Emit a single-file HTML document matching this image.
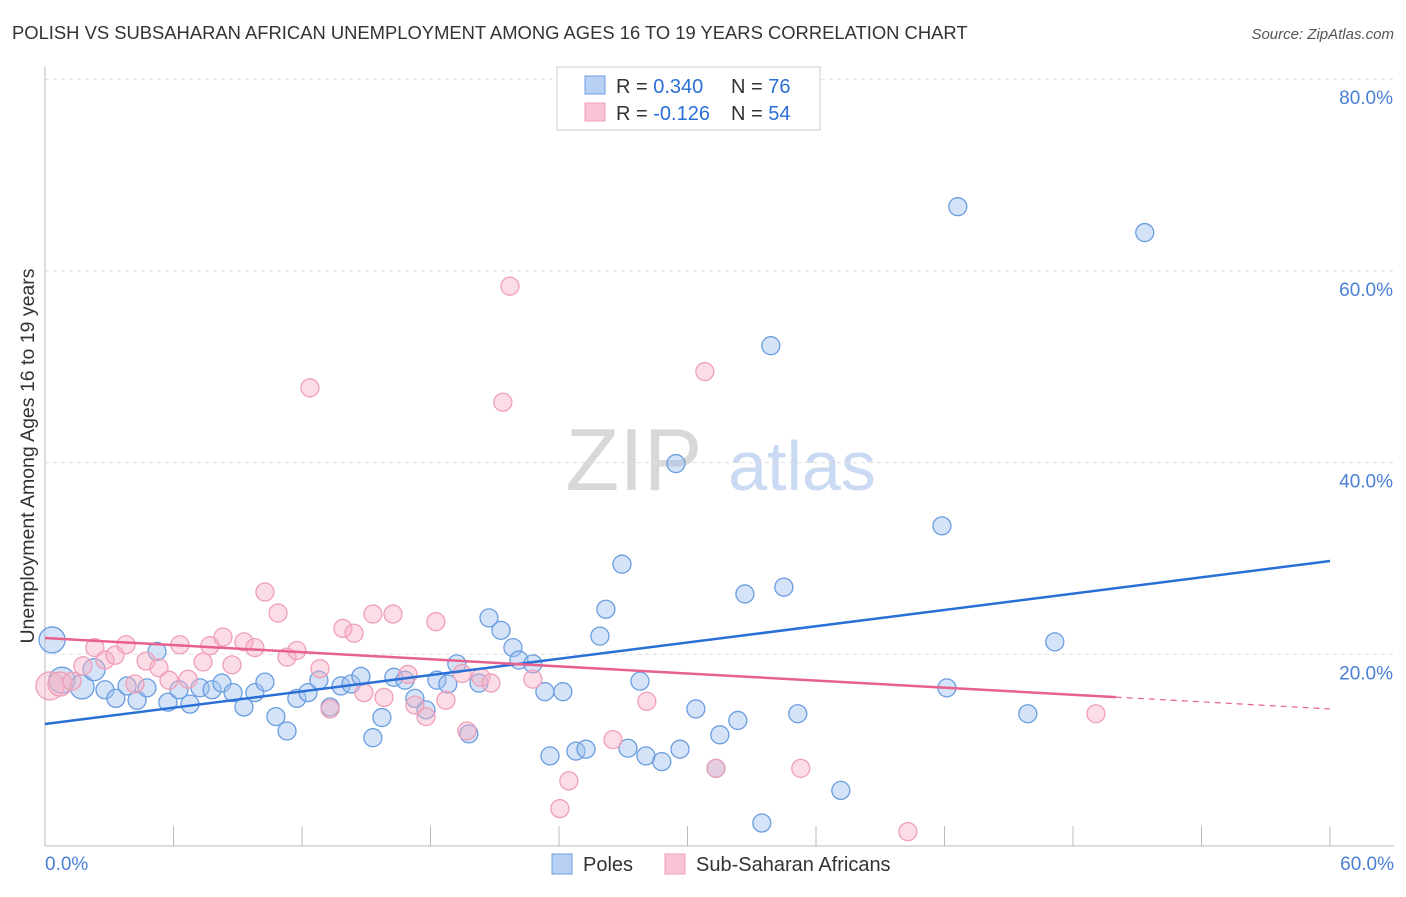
<!DOCTYPE html>
<html><head><meta charset="utf-8"><style>
body{margin:0;background:#fff;font-family:"Liberation Sans",sans-serif;}
svg text{font-family:"Liberation Sans",sans-serif;}
</style></head><body>
<svg id="chart" width="1406" height="892" xmlns="http://www.w3.org/2000/svg">
<text x="12" y="39" font-size="18.4" fill="#333">POLISH VS SUBSAHARAN AFRICAN UNEMPLOYMENT AMONG AGES 16 TO 19 YEARS CORRELATION CHART</text>
<text x="1394" y="39" font-size="15" fill="#555" text-anchor="end" font-style="italic">Source: ZipAtlas.com</text>
<g>
<text x="634" y="490" font-size="88" fill="#d8d8d8" font-family="Liberation Serif, serif" text-anchor="middle">ZIP</text>
<text x="802" y="490" font-size="70" fill="#c9daf2" text-anchor="middle">atlas</text>
</g>
<g id="grid"></g>
<g id="axes"></g>
<g id="pts"></g>
<g id="lines"></g>
<text transform="translate(34,456) rotate(-90)" font-size="19.5" fill="#333" text-anchor="middle">Unemployment Among Ages 16 to 19 years</text>
<text x="45" y="870" font-size="19" fill="#4a7fd4">0.0%</text>
<text x="1394" y="870" font-size="19" fill="#4a7fd4" text-anchor="end">60.0%</text>
<g>
<rect x="557" y="67" width="263" height="63" fill="#fff" stroke="#ccc"/>
<rect x="585" y="76" width="20" height="18" fill="#b8d0f4" stroke="#6c9ee0"/>
<rect x="585" y="103" width="20" height="18" fill="#f9c4d4" stroke="#f0a0b8"/>
<text x="616" y="93" font-size="20" fill="#333">R = <tspan fill="#2a6fd6">0.340</tspan><tspan x="731">N = </tspan><tspan fill="#2a6fd6">76</tspan></text>
<text x="616" y="120" font-size="20" fill="#333">R = <tspan fill="#2a6fd6">-0.126</tspan><tspan x="731">N = </tspan><tspan fill="#2a6fd6">54</tspan></text>
</g>
<g>
<rect x="552" y="854" width="20" height="20" fill="#b8d0f4" stroke="#6c9ee0"/>
<text x="583" y="871" font-size="20" fill="#333">Poles</text>
<rect x="665" y="854" width="20" height="20" fill="#f9c4d4" stroke="#f0a0b8"/>
<text x="696" y="871" font-size="20" fill="#333">Sub-Saharan Africans</text>
</g>
</svg>
<script>
const yTicks=[20,40,60,80];
const xTicks=[0,6,12,18,24,30,36,42,48,54,60];
const blueX=[0.33,0.79,1.73,2.29,2.80,3.31,3.83,4.30,4.76,5.23,5.74,6.26,6.77,7.24,7.80,8.26,8.78,9.29,9.80,10.27,10.78,11.30,11.76,12.28,12.79,13.31,13.82,14.29,14.75,15.31,15.73,16.29,16.81,17.27,17.79,18.30,18.81,19.23,19.79,20.26,20.73,21.29,21.85,22.13,22.78,23.34,24.18,23.58,24.79,25.26,25.91,26.19,26.94,27.22,28.06,28.80,29.46,29.65,30.39,31.51,32.35,32.68,33.89,34.50,35.15,33.47,37.16,41.88,42.11,42.62,45.89,47.15,51.35,27.78,31.33];
const blueY=[21.5,17.3,16.6,18.4,16.3,15.4,16.7,15.2,16.5,20.3,15.0,16.3,14.8,16.5,16.3,17.0,16.0,14.5,16.0,17.1,13.5,12.0,15.4,16.0,17.3,14.5,16.7,16.9,17.7,11.3,13.4,17.6,17.3,15.4,14.2,17.3,16.9,19.0,11.7,17.0,23.8,22.5,20.7,19.4,19.0,16.1,16.1,9.4,9.9,10.1,21.9,24.7,29.4,10.2,9.4,8.8,39.9,10.1,14.3,11.6,13.1,26.3,52.2,27.0,13.8,2.4,5.8,33.4,16.5,66.7,13.8,21.3,64.0,17.2,8.1];
const blueSize=[13,13,12,11];
const pinkX=[0.23,0.70,1.26,1.77,2.33,2.80,3.27,3.78,4.20,4.72,5.32,5.79,6.30,6.68,7.38,7.70,8.31,8.73,9.29,9.80,10.27,10.88,11.30,11.76,12.37,12.84,13.31,13.91,14.43,14.89,15.31,15.83,16.25,16.95,17.27,17.79,18.25,18.72,19.47,19.70,20.35,20.82,21.71,21.38,22.78,24.46,24.04,26.52,28.10,30.81,31.33,35.29,40.29,49.07];
const pinkY=[16.7,16.9,17.2,18.8,20.7,19.4,19.9,21.0,16.9,19.3,18.6,17.3,21.0,17.4,19.2,20.9,21.8,18.9,21.3,20.7,26.5,24.3,19.7,20.4,47.8,18.5,14.3,22.7,22.2,16.0,24.2,15.5,24.2,17.9,14.7,13.5,23.4,15.2,18.0,12.0,17.6,17.0,58.4,46.3,17.4,6.8,3.9,11.1,15.1,49.5,8.1,8.1,1.5,13.8];
const pinkSize=[14,12];
const blueTrend=[12.73,29.73];
const pinkTrend=[21.7,14.3];
const pinkSolidEnd=50;
const NS='http://www.w3.org/2000/svg';
const X=v=>45+v*(1285/60);
const Y=v=>846-v*9.585;
function mk(t,a,p){const e=document.createElementNS(NS,t);for(const k in a)e.setAttribute(k,a[k]);p.appendChild(e);return e;}
const grid=document.getElementById('grid'),axes=document.getElementById('axes'),pts=document.getElementById('pts'),lines=document.getElementById('lines');
yTicks.forEach(t=>{
 const l=mk('line',{x1:45,x2:1394,y1:Y(t),y2:Y(t),stroke:'#ddd','stroke-dasharray':'4,4'},grid);
 
 
 const tx=mk('text',{x:1393,y:Y(t)+25,'font-size':19,fill:'#4a7fd4','text-anchor':'end'},grid);
 tx.textContent=t.toFixed(1)+'%';
 
 
});
const ya=mk('line',{x1:45,x2:45,y1:67,y2:846,stroke:'#bbb'},axes);


const xa=mk('line',{x1:45,x2:1394,y1:846,y2:846,stroke:'#bbb'},axes);


xTicks.forEach(t=>{
 const l=mk('line',{x1:X(t),x2:X(t),y1:826,y2:846,stroke:'#bbb'},axes);
 
 
});
blueX.forEach((v,i)=>{
 const c=mk('circle',{cx:X(v),cy:Y(blueY[i]),r:blueSize[i]||9,fill:'rgba(160,194,240,0.45)',stroke:'#6a9de0','stroke-width':1.3},pts);
 
 
});
pinkX.forEach((v,i)=>{
 const c=mk('circle',{cx:X(v),cy:Y(pinkY[i]),r:pinkSize[i]||9,fill:'rgba(248,178,198,0.45)',stroke:'#ef9fb8','stroke-width':1.3},pts);
 
 
});
const bl=mk('line',{x1:X(0),y1:Y(blueTrend[0]),x2:X(60),y2:Y(blueTrend[1]),stroke:'#2a6fd6','stroke-width':2.5},lines);


const pm=pinkTrend[0]+(pinkTrend[1]-pinkTrend[0])*pinkSolidEnd/60;
const pl=mk('line',{x1:X(0),y1:Y(pinkTrend[0]),x2:X(pinkSolidEnd),y2:Y(pm),stroke:'#e8608c','stroke-width':2.5},lines);


const pd=mk('line',{x1:X(pinkSolidEnd),y1:Y(pm),x2:X(60),y2:Y(pinkTrend[1]),stroke:'#e8608c','stroke-width':1.2,'stroke-dasharray':'6,5'},lines);


</script>
</body></html>
